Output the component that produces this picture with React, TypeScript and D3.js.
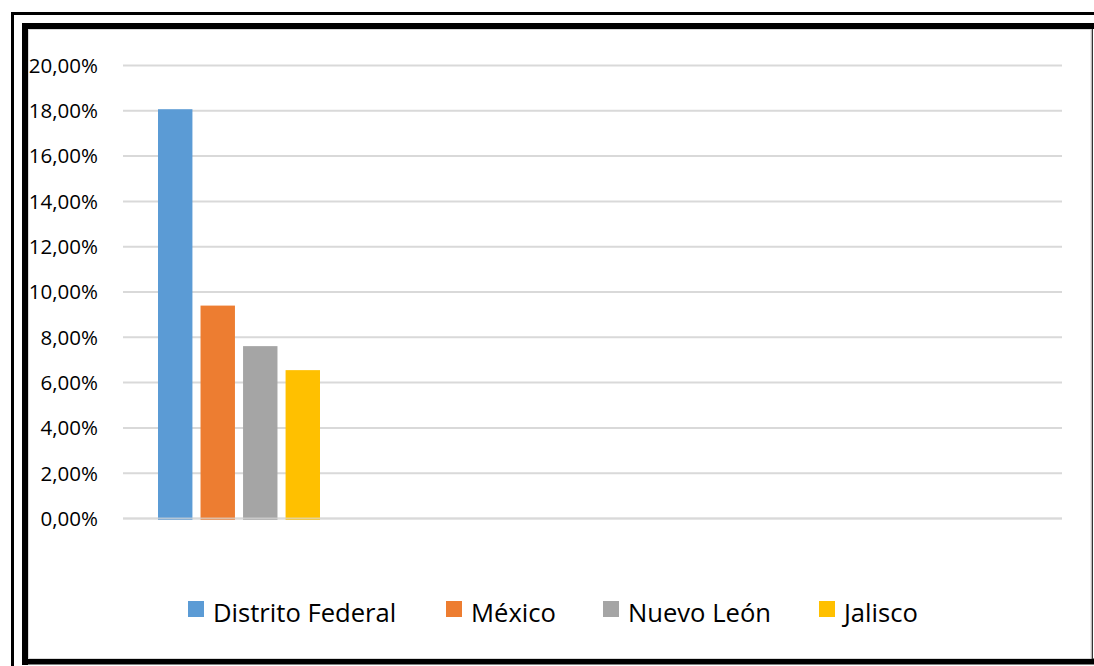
import React from "react";
import * as d3 from "d3";

const seriesNames = ["Distrito Federal", "México", "Nuevo León", "Jalisco"];
const seriesValues = [18.07, 9.4, 7.61, 6.55];
const seriesColors = ["#5B9BD5", "#ED7D31", "#A5A5A5", "#FFC000"];
const categorySlots = ["c1", "c2", "c3", "c4"];
const dataCategory = "c1";
const yTicks = [0, 2, 4, 6, 8, 10, 12, 14, 16, 18, 20];

const W = 1094;
const H = 666;
const plot = { left: 123, right: 1062, top: 65.5, bottom: 518.5 };
const FONT = "'Open Sans', 'Noto Sans', sans-serif";

export default function App() {
  const y = d3.scaleLinear().domain([0, 20]).range([plot.bottom, plot.top]);
  const x0 = d3
    .scaleBand<string>()
    .domain(categorySlots)
    .range([plot.left, plot.right])
    .paddingInner(0)
    .paddingOuter(0);
  const x1 = d3
    .scaleBand<string>()
    .domain(seriesNames)
    .range([35, 197])
    .paddingInner(8 / 42)
    .paddingOuter(0);
  const fmt = (v: number) => v.toFixed(2).replace(".", ",") + "%";

  const legendX = [188, 446, 603, 819];

  return (
    <svg
      width={W}
      height={H}
      style={{ position: "absolute", left: 0, top: 0, background: "#fff" }}
    >
      <rect x={0} y={0} width={W} height={H} fill="#fff" />
      {/* outer thin frame */}
      <rect x={11} y={12} width={W} height={3} fill="#000" />
      <rect x={11} y={12} width={3} height={H} fill="#000" />
      {/* inner thick frame */}
      <rect x={22} y={23} width={W} height={6} fill="#000" />
      <rect x={22} y={23} width={6} height={642} fill="#000" />
      <rect x={22} y={658.5} width={W} height={6} fill="#000" />
      <rect x={1091.5} y={29} width={1.5} height={630} fill="#333" />
      <rect x={28.5} y={29.5} width={1062.5} height={629} fill="none" stroke="#d9d9d9" strokeWidth={1} />

      {/* gridlines */}
      {yTicks.map((t) => (
        <line
          key={t}
          x1={plot.left}
          x2={plot.right}
          y1={y(t)}
          y2={y(t)}
          stroke="#d9d9d9"
          strokeWidth={2}
        />
      ))}
      {/* tick labels */}
      {yTicks.map((t) => (
        <text
          key={"l" + t}
          x={98}
          y={y(t)}
          dy="0.36em"
          textAnchor="end"
          fontFamily={FONT}
          fontSize={20.5}
          fill="#000"
        >
          {fmt(t)}
        </text>
      ))}
      {/* bars */}
      {seriesNames.map((s, i) => (
        <rect
          key={s}
          x={(x0(dataCategory) as number) + (x1(s) as number)}
          y={y(seriesValues[i])}
          width={x1.bandwidth()}
          height={y(0) - y(seriesValues[i]) + 1.5}
          fill={seriesColors[i]}
        />
      ))}
      <line
        x1={plot.left}
        x2={plot.right}
        y1={y(0)}
        y2={y(0)}
        stroke="#d9d9d9"
        strokeWidth={2}
        opacity={0.7}
      />
      {/* legend */}
      {seriesNames.map((s, i) => (
        <g key={"lg" + s} transform={`translate(${legendX[i]},601)`}>
          <rect x={0} y={0} width={16} height={16} fill={seriesColors[i]} />
          <text
            x={25}
            y={21}
            fontFamily={FONT}
            fontSize={25.6}
            fill="#000"
          >
            {s}
          </text>
        </g>
      ))}
    </svg>
  );
}
